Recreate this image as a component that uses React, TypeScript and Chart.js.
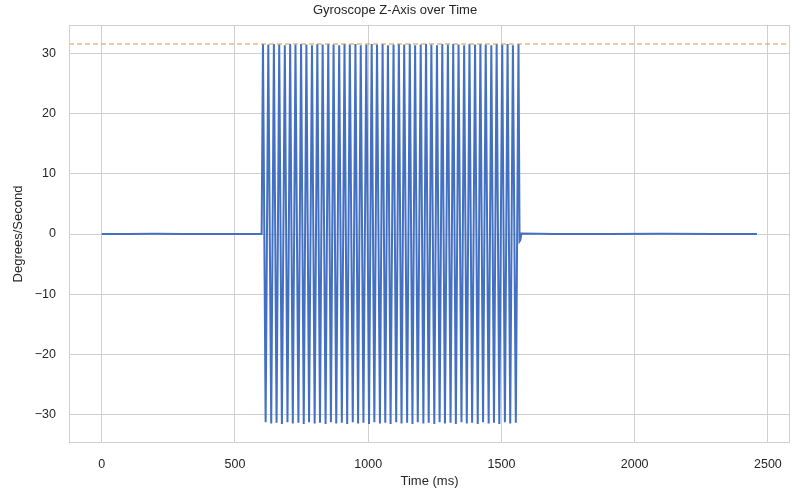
import React, { useEffect, useRef } from "react";
import { Chart, registerables } from "chart.js";

Chart.register(...registerables);

const TITLE = "Gyroscope Z-Axis over Time";
const X_LABEL = "Time (ms)";
const Y_LABEL = "Degrees/Second";

const xTicks = [0, 500, 1000, 1500, 2000, 2500];
const yTicks = [-30, -20, -10, 0, 10, 20, 30];

// baseline before the motion
const preTimes = [0, 100, 200, 300, 400, 500, 600];
const preValues = [0.02, 0.01, 0.03, 0.0, 0.02, 0.01, 0.02];

// oscillating section
const oscTimes = [
  605, 615, 625, 636, 646, 656, 666, 676, 687, 697, 707, 717, 727, 738, 748, 758,
  768, 778, 789, 799, 809, 819, 829, 840, 850, 860, 870, 880, 891, 901, 911, 921,
  931, 942, 952, 962, 972, 982, 993, 1003, 1013, 1023, 1033, 1044, 1054, 1064, 1074,
  1084, 1095, 1105, 1115, 1125, 1135, 1146, 1156, 1166, 1176, 1186, 1197, 1207, 1217,
  1227, 1237, 1248, 1258, 1268, 1278, 1288, 1299, 1309, 1319, 1329, 1339, 1350, 1360,
  1370, 1380, 1390, 1401, 1411, 1421, 1431, 1441, 1452, 1462, 1472, 1482, 1492, 1503,
  1513, 1523, 1533, 1543, 1554, 1564,
];
const oscValues = [
  31.5, -31.2, 31.4, -31.4, 31.5, -31.3, 31.4, -31.5, 31.3, -31.2, 31.5, -31.4, 31.4,
  -31.3, 31.5, -31.5, 31.4, -31.2, 31.3, -31.4, 31.5, -31.3, 31.4, -31.5, 31.5, -31.2,
  31.4, -31.4, 31.3, -31.3, 31.5, -31.5, 31.4, -31.2, 31.5, -31.4, 31.3, -31.3, 31.4,
  -31.5, 31.5, -31.2, 31.4, -31.4, 31.5, -31.3, 31.3, -31.5, 31.4, -31.2, 31.5, -31.4,
  31.4, -31.3, 31.5, -31.5, 31.3, -31.2, 31.4, -31.4, 31.5, -31.3, 31.4, -31.5, 31.3,
  -31.2, 31.5, -31.4, 31.4, -31.3, 31.5, -31.5, 31.4, -31.2, 31.3, -31.4, 31.5, -31.3,
  31.4, -31.5, 31.5, -31.2, 31.4, -31.4, 31.3, -31.3, 31.5, -31.5, 31.4, -31.2, 31.5,
  -31.4, 31.3, -31.3, 31.5,
];

// settling and baseline after the motion
const postTimes = [1568, 1571, 1575, 1700, 1900, 2100, 2300, 2459];
const postValues = [-1.2, -1.0, 0.1, 0.02, 0.01, 0.03, 0.01, 0.02];

const maxValue = 31.5;

const X_MIN = -123;
const X_MAX = 2583;
const Y_MIN = -34.65;
const Y_MAX = 34.65;

const FONT = "'Liberation Sans', Arial, sans-serif";
const GRID = "#d0d0d0";
const TEXT = "#262626";

const fmt = (v: number) => (v < 0 ? "\u2212" + Math.abs(v) : String(v));

export default function App() {
  const ref = useRef<HTMLCanvasElement | null>(null);

  useEffect(() => {
    if (!ref.current) return;
    const times = [...preTimes, ...oscTimes, ...postTimes];
    const values = [...preValues, ...oscValues, ...postValues];
    const points = times.map((t, i) => ({ x: t, y: values[i] }));

    const frame = {
      id: "frame",
      afterDraw(chart: any) {
        const { ctx, chartArea } = chart;
        ctx.save();
        ctx.strokeStyle = GRID;
        ctx.lineWidth = 1;
        ctx.strokeRect(
          Math.round(chartArea.left) + 0.5,
          Math.round(chartArea.top) + 0.5,
          Math.round(chartArea.right - chartArea.left) - 1,
          Math.round(chartArea.bottom - chartArea.top) - 1
        );
        ctx.restore();
      },
    };

    const chart = new Chart(ref.current, {
      type: "line",
      data: {
        datasets: [
          {
            label: "Gyro Z",
            data: points,
            borderColor: "#4470c4",
            borderWidth: 2,
            pointRadius: 0,
            tension: 0,
            order: 1,
          },
          {
            label: "Max",
            data: [
              { x: X_MIN, y: maxValue },
              { x: X_MAX, y: maxValue },
            ],
            borderColor: "rgb(222,150,50)",
            borderWidth: 1.1,
            borderDash: [5, 3],
            pointRadius: 0,
            order: 0,
          },
        ],
      },
      options: {
        animation: false,
        responsive: false,
        maintainAspectRatio: false,
        layout: { padding: { left: 0, right: 2, top: 0, bottom: 0 } },
        plugins: {
          legend: { display: false },
          tooltip: { enabled: false },
          title: {
            display: true,
            text: TITLE,
            color: TEXT,
            font: { family: FONT, size: 13, weight: "normal" },
            padding: { top: 3, bottom: 6.4 },
          },
        },
        scales: {
          x: {
            type: "linear",
            min: X_MIN,
            max: X_MAX,
            afterBuildTicks: (s: any) => {
              s.ticks = xTicks.map((v) => ({ value: v }));
            },
            afterFit: (s: any) => {
              s.height = 52;
              s.paddingRight = 0;
              s.paddingLeft = 0;
            },
            ticks: {
              color: TEXT,
              font: { family: FONT, size: 12.5 },
              padding: 14,
              maxRotation: 0,
              autoSkip: false,
              callback: (v: any) => fmt(Number(v)),
            },
            grid: { color: GRID, drawTicks: false, lineWidth: 1 },
            border: { display: false },
            title: {
              display: true,
              text: X_LABEL,
              color: TEXT,
              font: { family: FONT, size: 13 },
              padding: { top: 0, bottom: 6 },
            },
          },
          y: {
            type: "linear",
            min: Y_MIN,
            max: Y_MAX,
            afterBuildTicks: (s: any) => {
              s.ticks = yTicks.map((v) => ({ value: v }));
            },
            afterFit: (s: any) => {
              s.width = 69;
            },
            ticks: {
              color: TEXT,
              font: { family: FONT, size: 12.5 },
              padding: 13,
              callback: (v: any) => fmt(Number(v)),
            },
            grid: { color: GRID, drawTicks: false, lineWidth: 1 },
            border: { display: false },
            title: {
              display: true,
              text: Y_LABEL,
              color: TEXT,
              font: { family: FONT, size: 13 },
              padding: { top: 11, bottom: 0 },
            },
          },
        },
      },
      plugins: [frame],
    });
    return () => chart.destroy();
  }, []);

  return (
    <div style={{ position: "fixed", left: 0, top: 0, width: 792, height: 495, background: "#fff" }}>
      <canvas ref={ref} width={792} height={495} style={{ display: "block" }} />
    </div>
  );
}
